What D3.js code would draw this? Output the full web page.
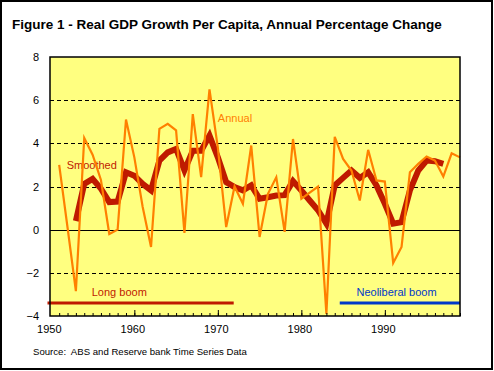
<!DOCTYPE html>
<html>
<head>
<meta charset="utf-8">
<script src="https://cdn.jsdelivr.net/npm/d3@7"></script>
<style>
  body { margin: 0; background: #fff; }
  svg { display: block; font-family: "Liberation Sans", Arial, sans-serif; }
</style>
</head>
<body>
<div id="chart"></div>
<script>
// annual real GDP growth per capita, %
const annualYears = d3.range(1951, 2000);
const annual = [3.0, 0.1, -2.85, 4.25, 3.47, 2.3, -0.2, 0.0, 5.1,
  3.35, 1.05, -0.8, 4.67, 4.9, 4.6, -0.15, 5.35, 2.43, 6.5,
  3.8, 0.12, 2.0, 1.2, 3.9, -0.34, 1.66, 2.43, -0.1, 4.2,
  1.43, 1.72, 2.0, -3.9, 4.3, 3.28, 2.74, 1.35, 3.7, 2.28,
  2.23, -1.54, -0.8, 2.66, 3.05, 3.39, 3.2, 2.46, 3.54, 3.35];

// smoothed series
const smoothYears = d3.range(1953, 1998);
const smoothed = [0.4, 2.12, 2.35, 1.9, 1.28, 1.3, 2.66,
  2.5, 2.12, 1.82, 3.2, 3.58, 3.74, 2.75, 3.66, 3.66, 4.36,
  3.35, 2.2, 1.97, 1.82, 2.05, 1.43, 1.5, 1.58, 1.6, 2.25,
  1.82, 1.35, 0.9, 0.28, 2.05, 2.4, 2.74, 2.4, 2.66, 2.05,
  1.2, 0.28, 0.35, 1.82, 2.74, 3.2, 3.17, 3.05];

const yTicks = [-4, -2, 0, 2, 4, 6, 8];
const xTicks = [1950, 1960, 1970, 1980, 1990];

// period bars: [start, end]
const longBoom = [1949.6, 1971.9];
const neoliberalBoom = [1984.6, 1999];

const W = 494, H = 371;
const plot = {left: 50, top: 57, right: 460, bottom: 316};

const red = '#bf1a00', orange = '#ff8000', blue = '#0038c8';

const svg = d3.select('#chart').append('svg')
  .attr('width', W)
  .attr('height', H);

svg.append('rect')
  .attr('x', 1).attr('y', 1)
  .attr('width', W - 3).attr('height', H - 3)
  .attr('fill', '#fff')
  .attr('stroke', '#000')
  .attr('stroke-width', 2);

svg.append('text')
  .attr('x', 12).attr('y', 29)
  .style('font-size', '13.5px')
  .style('font-weight', 'bold')
  .text('Figure 1 - Real GDP Growth Per Capita, Annual Percentage Change');

const x = d3.scaleLinear().domain([1949.9, 1999]).range([plot.left, plot.right]);
const y = d3.scaleLinear().domain([-4, 8]).range([plot.bottom, plot.top]);

svg.append('rect')
  .attr('x', plot.left).attr('y', plot.top)
  .attr('width', plot.right - plot.left)
  .attr('height', plot.bottom - plot.top)
  .attr('fill', '#ffff80');

// grid
svg.append('g')
  .selectAll('line')
  .data(yTicks.filter(d => d > -4 && d < 8))
  .join('line')
  .attr('x1', plot.left).attr('x2', plot.right)
  .attr('y1', d => Math.round(y(d)) + 0.5)
  .attr('y2', d => Math.round(y(d)) + 0.5)
  .attr('stroke', '#000')
  .attr('stroke-width', 1)
  .attr('stroke-dasharray', d => d === 0 ? null : '4,3');

// period lines and labels
svg.append('line')
  .attr('x1', x(longBoom[0])).attr('x2', x(longBoom[1]))
  .attr('y1', y(-3.4)).attr('y2', y(-3.4))
  .attr('stroke', red).attr('stroke-width', 3);
svg.append('line')
  .attr('x1', x(neoliberalBoom[0])).attr('x2', x(neoliberalBoom[1]))
  .attr('y1', y(-3.4)).attr('y2', y(-3.4))
  .attr('stroke', blue).attr('stroke-width', 3);

const label = (txt, xv, yv, color) => svg.append('text')
  .attr('x', x(xv)).attr('y', y(yv))
  .attr('dy', '0.35em')
  .attr('fill', color)
  .style('font-size', '11px')
  .text(txt);

label('Long boom', 1954.9, -2.89, red);
label('Neoliberal boom', 1986.6, -2.89, blue);
label('Smoothed', 1951.9, 3.0, red);
label('Annual', 1970.0, 5.16, orange);

// series
const line = d3.line().x(d => x(d[0])).y(d => y(d[1]));

svg.append('path')
  .datum(smoothYears.map((yr, i) => [yr, smoothed[i]]))
  .attr('fill', 'none')
  .attr('stroke', red)
  .attr('stroke-width', 6)
  .attr('d', line);

svg.append('path')
  .datum(annualYears.map((yr, i) => [yr, annual[i]]))
  .attr('fill', 'none')
  .attr('stroke', orange)
  .attr('stroke-width', 2.2)
  .attr('d', line);

// plot frame
svg.append('rect')
  .attr('x', plot.left).attr('y', plot.top)
  .attr('width', plot.right - plot.left)
  .attr('height', plot.bottom - plot.top)
  .attr('fill', 'none')
  .attr('stroke', '#000')
  .attr('stroke-width', 1.5);

// axes
svg.append('g')
  .attr('transform', `translate(0, ${plot.bottom})`)
  .call(d3.axisBottom(x).tickValues(d3.range(1951, 2000)).tickSize(-3).tickFormat(''))
  .call(g => g.select('.domain').remove());

svg.append('g')
  .attr('transform', `translate(-2, ${plot.bottom})`)
  .call(d3.axisBottom(x).tickValues(xTicks).tickSize(0).tickPadding(9).tickFormat(d3.format('d')))
  .call(g => g.select('.domain').remove())
  .call(g => g.selectAll('text').style('font-size', '11px').attr('fill', '#000').style('font-family', '"Liberation Sans", Arial, sans-serif'));

svg.append('g')
  .attr('transform', `translate(0, ${plot.bottom})`)
  .call(d3.axisBottom(x).tickValues(xTicks.slice(1)).tickSize(-6).tickFormat(''))
  .call(g => g.select('.domain').remove());

svg.append('g')
  .attr('transform', `translate(${plot.left}, 0)`)
  .call(d3.axisLeft(y).tickValues(yTicks).tickSize(0).tickPadding(11).tickFormat(d3.format('d')))
  .call(g => g.select('.domain').remove())
  .call(g => g.selectAll('text').style('font-size', '11px').attr('fill', '#000').style('font-family', '"Liberation Sans", Arial, sans-serif'));

svg.append('text')
  .attr('x', 33).attr('y', 355)
  .style('font-size', '9.6px')
  .style('white-space', 'pre')
  .text('Source:  ABS and Reserve bank Time Series Data');
</script>
</body>
</html>
